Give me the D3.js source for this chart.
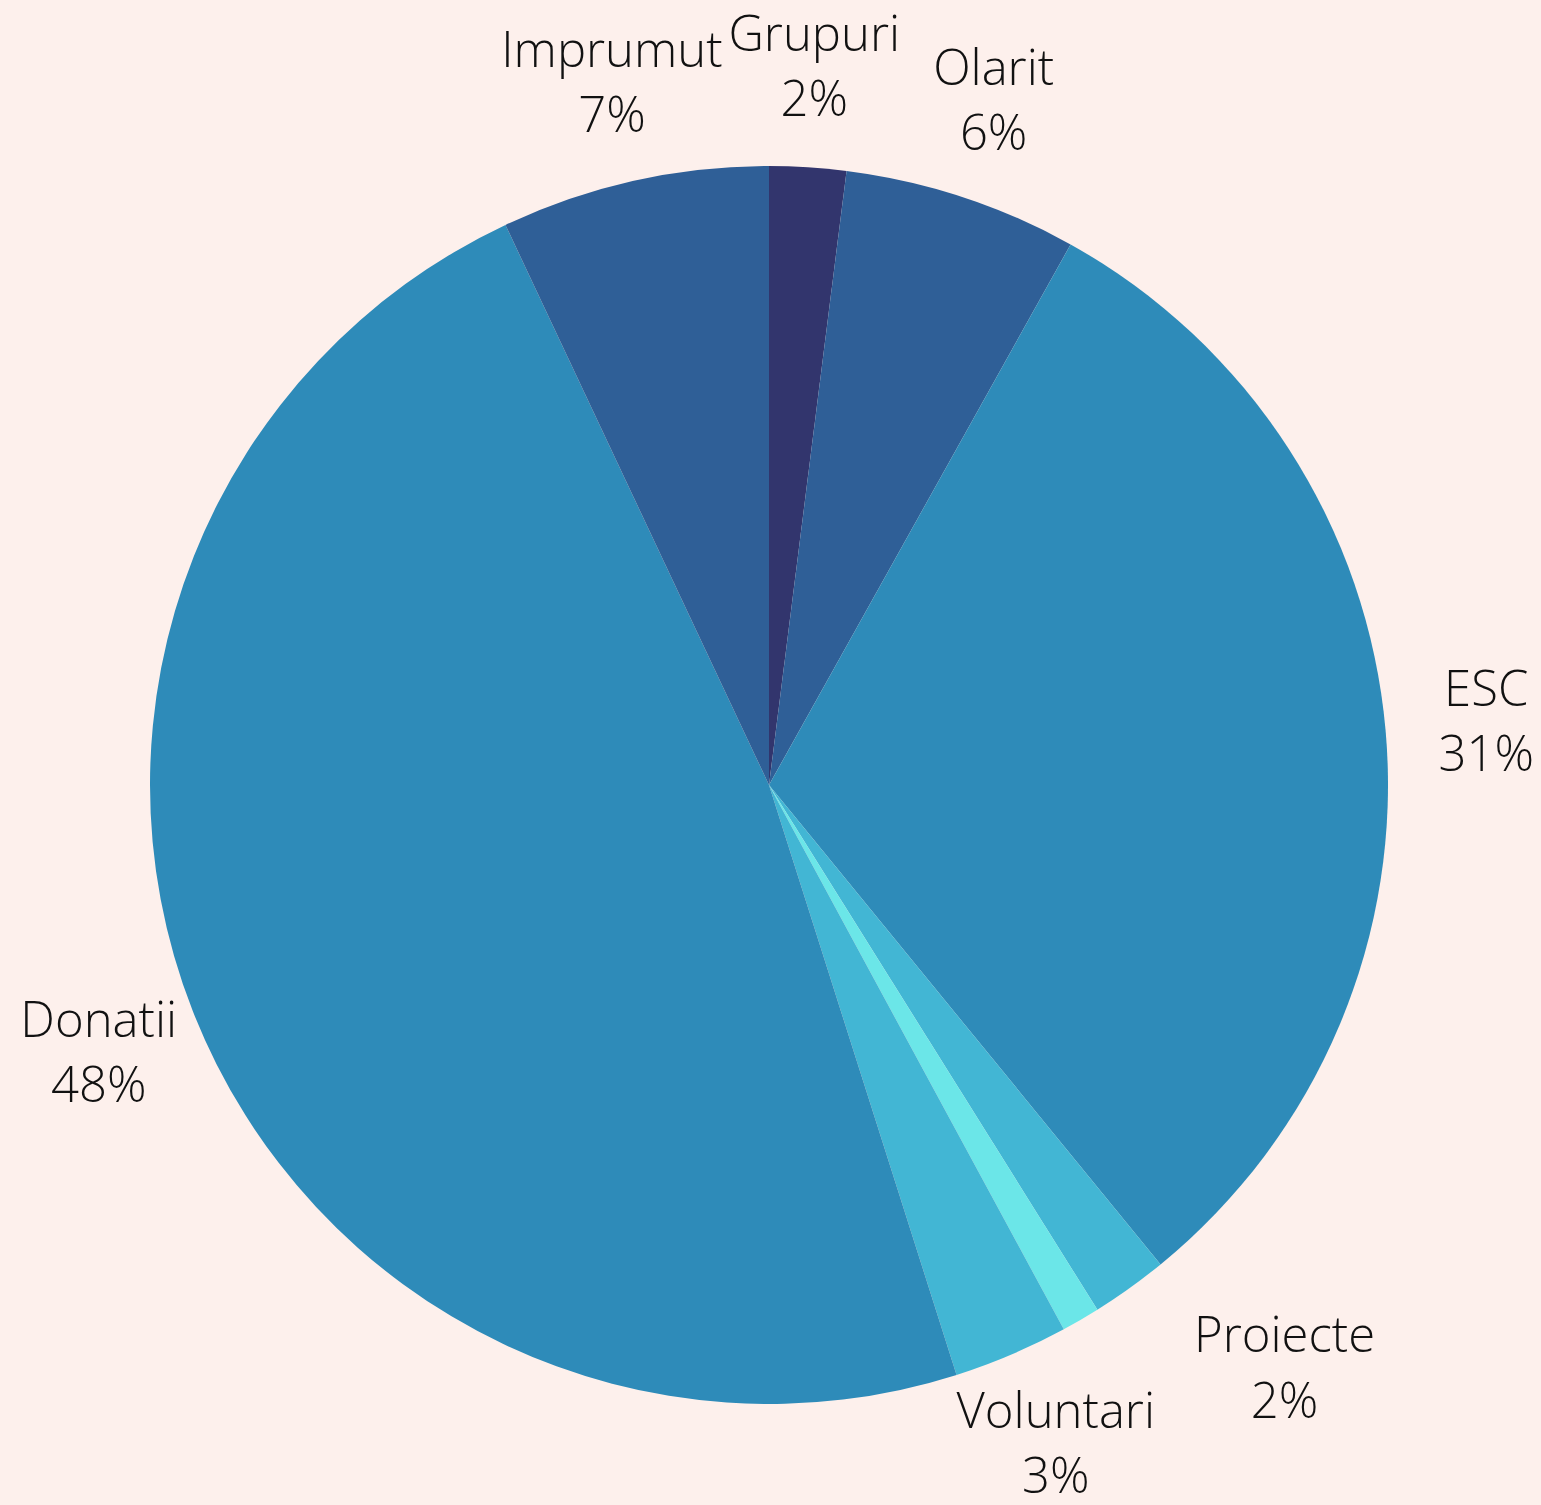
<!DOCTYPE html>
<html>
<head>
<meta charset="utf-8">
<script src="https://cdn.jsdelivr.net/npm/d3@7"></script>
<style>
  body { margin: 0; background: #fdf0ec; }
  svg { display: block; }
  .lbl { font-family: "Open Sans", sans-serif; font-weight: 300; font-size: 49px; fill: #111; }
</style>
</head>
<body>
<svg id="canvas"></svg>
<script>
// slices clockwise from 12 o'clock
let categories = ["Grupuri", "Olarit", "ESC", "Proiecte", "", "Voluntari", "Donatii", "Imprumut"];
let values = [2.0, 6.1, 31.0, 2.0, 1.0, 3.0, 47.9, 7.0];
let colors = ["#32356d", "#2f5f97", "#2e8bb9", "#42b6d4", "#6be6e8", "#42b6d4", "#2e8bb9", "#2f5f97"];

var width = 1541, height = 1505;
var cx = 769, cy = 785, radius = 619;

let canvas = d3.select('#canvas')
    .attr('width', width)
    .attr('height', height)
    .append('g')
    .attr('transform', 'translate(' + cx + ',' + cy + ')');

let data = categories.map((c, i) => ({name: c, value: values[i], color: colors[i]}));
let total = d3.sum(values);

var pie = d3.pie().sort(null).value(d => d.value);
var arc = d3.arc().innerRadius(0).outerRadius(radius);
var labelArc = d3.arc().innerRadius(720).outerRadius(720);

let arcs = pie(data);

canvas.selectAll('path')
    .data(arcs)
    .enter()
    .append('path')
    .attr('d', arc)
    .attr('fill', d => d.data.color);

// Proiecte label is pushed out to the right in the original
let nudge = {"Proiecte": [96, -2], "Voluntari": [5, -4], "Donatii": [0, 5]};

let labels = canvas.selectAll('.lbl')
    .data(arcs.filter(d => d.data.name !== ""))
    .enter()
    .append('text')
    .attr('class', 'lbl')
    .attr('text-anchor', 'middle')
    .attr('transform', function(d) {
        let p = labelArc.centroid(d);
        let n = nudge[d.data.name] || [0, 0];
        return 'translate(' + (p[0] + n[0]) + ',' + (p[1] + n[1]) + ')';
    });

labels.append('tspan')
    .attr('x', 0)
    .attr('dy', '-0.32em')
    .text(d => d.data.name);

labels.append('tspan')
    .attr('x', 0)
    .attr('dy', '1.33em')
    .text(d => Math.round(d.data.value / total * 100) + '%');
</script>
</body>
</html>
